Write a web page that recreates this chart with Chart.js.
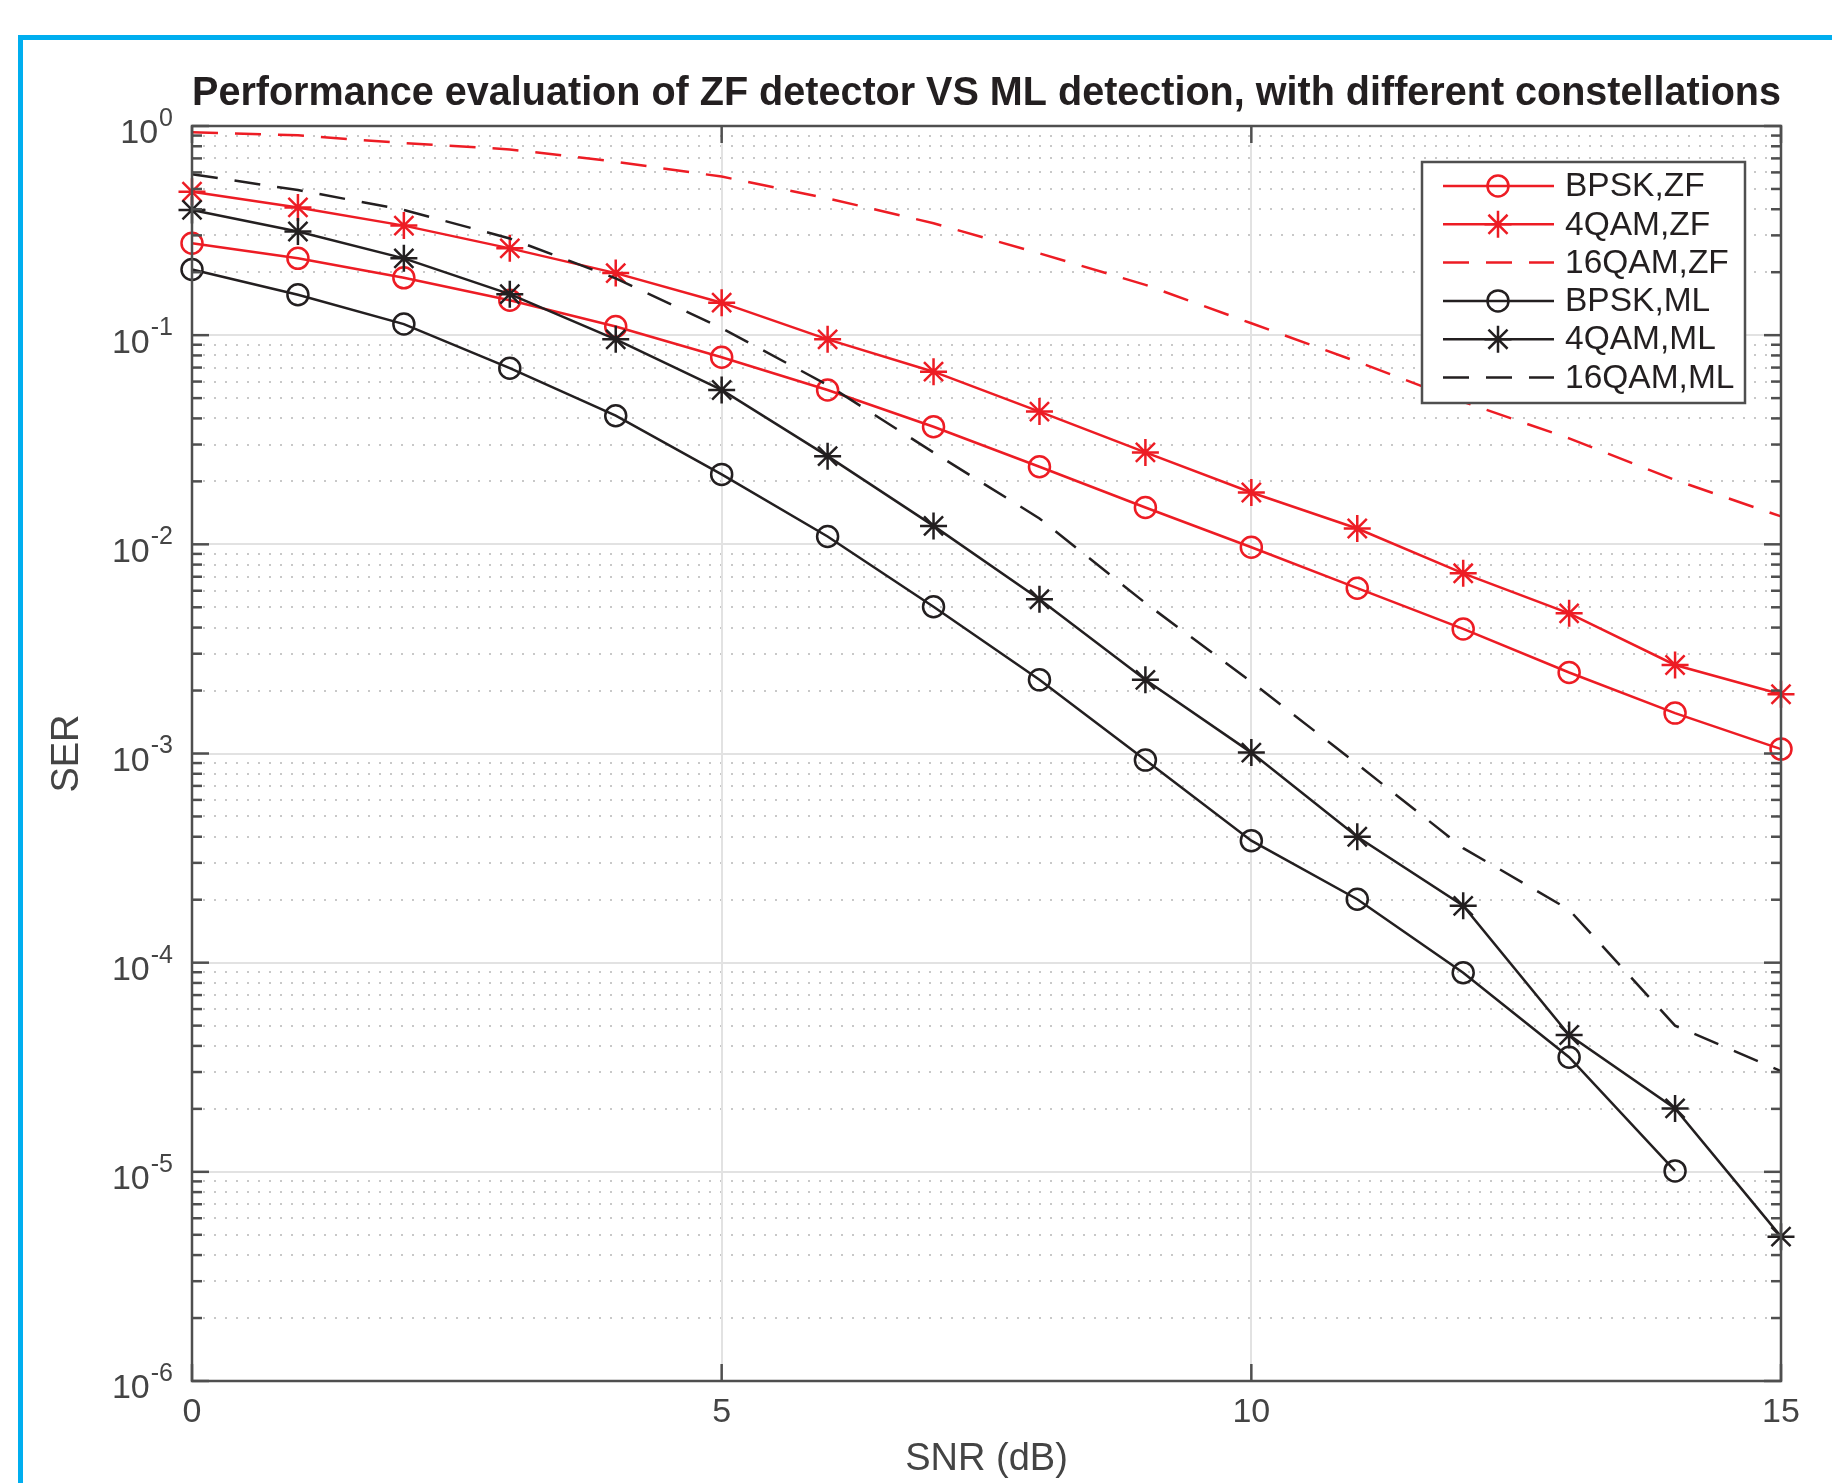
<!DOCTYPE html>
<html>
<head>
<meta charset="utf-8">
<title>ZF vs ML detection</title>
<script src="https://cdn.jsdelivr.net/npm/chart.js@4.4.1/dist/chart.umd.min.js"></script>
<style>
  html, body { margin: 0; padding: 0; background: #fff; }
  canvas { display: block; }
</style>
</head>
<body>
<canvas id="serChart" width="1832" height="1483"></canvas>
<script>
// SNR (dB) values of the simulation
const snrValues = [0, 1, 2, 3, 4, 5, 6, 7, 8, 9, 10, 11, 12, 13, 14, 15];

// Symbol error rates
const bpskZF = [0.275, 0.233, 0.188, 0.147, 0.110, 0.0784, 0.0547, 0.0365, 0.0235, 0.0150, 0.00968, 0.00617, 0.00394, 0.00244, 0.00156, 0.00105];
const qam4ZF = [0.485, 0.408, 0.334, 0.260, 0.198, 0.143, 0.0955, 0.0669, 0.0431, 0.0275, 0.0177, 0.0119, 0.00727, 0.00468, 0.00265, 0.00192];
const qam16ZF = [0.933, 0.902, 0.829, 0.773, 0.675, 0.573, 0.451, 0.343, 0.246, 0.174, 0.114, 0.0747, 0.048, 0.0321, 0.0203, 0.0136];
const bpskML = [0.206, 0.156, 0.113, 0.0695, 0.0412, 0.0216, 0.0109, 0.00503, 0.00225, 0.00093, 0.000383, 0.000201, 0.0000895, 0.0000353, 0.0000101, null];
const qam4ML = [0.397, 0.313, 0.233, 0.157, 0.0955, 0.0547, 0.0264, 0.01225, 0.00546, 0.00225, 0.00101, 0.0004, 0.000187, 0.0000451, 0.0000201, 0.0000049];
const qam16ML = [0.588, 0.494, 0.397, 0.290, 0.187, 0.108, 0.0578, 0.0275, 0.0133, 0.00524, 0.0022, 0.00089, 0.000353, 0.000179, 0.00005, 0.0000303];

const seriesLabels = ['BPSK,ZF', '4QAM,ZF', '16QAM,ZF', 'BPSK,ML', '4QAM,ML', '16QAM,ML'];

// Axis ticks
const xTickValues = [0, 5, 10, 15];
const yTickExponents = [0, -1, -2, -3, -4, -5, -6];

const chartTitle = 'Performance evaluation of ZF detector VS ML detection, with different constellations';
const xAxisTitle = 'SNR (dB)';
const yAxisTitle = 'SER';

const RED = '#ed1c24';
const BLACK = '#231f20';
const AXIS_GRAY = '#4f4f4f';
const LABEL_GRAY = '#444444';
const FONT = "'Liberation Sans', Arial, Helvetica, sans-serif";

function toPoints(values) {
  return snrValues.map((s, i) => ({ x: s, y: values[i] }));
}

function makeDataset(label, values, color, style, order) {
  const ds = {
    label: label,
    data: toPoints(values),
    borderColor: color,
    backgroundColor: 'rgba(0,0,0,0)',
    borderWidth: 2.5,
    pointBorderColor: color,
    pointBackgroundColor: 'rgba(0,0,0,0)',
    pointBorderWidth: 2.5,
    tension: 0,
    clip: false,
    order: order,
  };
  if (style === 'circle') {
    ds.pointStyle = 'circle';
    ds.pointRadius = 10.5;
  } else if (style === 'star') {
    ds.pointStyle = 'star';
    ds.pointRadius = 13.5;
  } else {
    ds.pointRadius = 0;
    ds.borderDash = [26, 17];
  }
  return ds;
}

function strokeLine(ctx, x1, y1, x2, y2) {
  ctx.beginPath();
  ctx.moveTo(x1, y1);
  ctx.lineTo(x2, y2);
  ctx.stroke();
}

// MATLAB-like frame: blue border, grid, box, ticks, labels and legend
const matlabLook = {
  id: 'matlabLook',
  beforeDraw(chart) {
    const { ctx, width, height } = chart;
    ctx.save();
    ctx.fillStyle = '#ffffff';
    ctx.fillRect(0, 0, width, height);
    ctx.strokeStyle = '#00aeef';
    ctx.lineWidth = 5;
    ctx.beginPath();
    ctx.moveTo(20.5, height);
    ctx.lineTo(20.5, 37.5);
    ctx.lineTo(width, 37.5);
    ctx.stroke();
    ctx.restore();
  },
  beforeDatasetsDraw(chart) {
    const { ctx, chartArea: a, scales: { x, y } } = chart;
    ctx.save();
    // minor grid (dotted)
    ctx.strokeStyle = '#c8c8c8';
    ctx.lineWidth = 2;
    ctx.setLineDash([2, 9]);
    for (let e = -6; e < 0; e++) {
      for (let m = 2; m <= 9; m++) {
        const py = Math.round(y.getPixelForValue(m * Math.pow(10, e)));
        strokeLine(ctx, a.left, py, a.right, py);
      }
    }
    // major grid (solid)
    ctx.setLineDash([]);
    ctx.strokeStyle = '#e2e2e2';
    yTickExponents.forEach(e => {
      const py = Math.round(y.getPixelForValue(Math.pow(10, e)));
      strokeLine(ctx, a.left, py, a.right, py);
    });
    xTickValues.forEach(v => {
      const px = Math.round(x.getPixelForValue(v));
      strokeLine(ctx, px, a.top, px, a.bottom);
    });
    ctx.restore();
  },
  afterDatasetsDraw(chart) {
    const { ctx, chartArea: a, scales: { x, y } } = chart;
    ctx.save();
    ctx.strokeStyle = AXIS_GRAY;
    ctx.lineWidth = 2.5;
    ctx.strokeRect(a.left, a.top, a.right - a.left, a.bottom - a.top);

    // y ticks (major + minor, both sides)
    const majorLen = 17, minorLen = 10;
    for (let e = -6; e <= 0; e++) {
      const py = y.getPixelForValue(Math.pow(10, e));
      strokeLine(ctx, a.left, py, a.left + majorLen, py);
      strokeLine(ctx, a.right, py, a.right - majorLen, py);
      if (e < 0) {
        for (let m = 2; m <= 9; m++) {
          const pm = y.getPixelForValue(m * Math.pow(10, e));
          strokeLine(ctx, a.left, pm, a.left + minorLen, pm);
          strokeLine(ctx, a.right, pm, a.right - minorLen, pm);
        }
      }
    }
    // x ticks (top and bottom)
    xTickValues.forEach(v => {
      const px = x.getPixelForValue(v);
      strokeLine(ctx, px, a.bottom, px, a.bottom - majorLen);
      strokeLine(ctx, px, a.top, px, a.top + majorLen);
    });

    // y tick labels: 10^e
    ctx.fillStyle = LABEL_GRAY;
    ctx.textBaseline = 'middle';
    const rightEdge = a.left - 19;
    yTickExponents.forEach(e => {
      const py = y.getPixelForValue(Math.pow(10, e));
      const expText = String(e);
      ctx.font = '25px ' + FONT;
      const expW = ctx.measureText(expText).width;
      ctx.textAlign = 'left';
      ctx.fillText(expText, rightEdge - expW, py - 7);
      ctx.font = '34px ' + FONT;
      ctx.textAlign = 'right';
      ctx.fillText('10', rightEdge - expW - 1, py + 8);
    });

    // x tick labels
    ctx.font = '34px ' + FONT;
    ctx.textAlign = 'center';
    xTickValues.forEach(v => {
      ctx.fillText(String(v), x.getPixelForValue(v), a.bottom + 32);
    });

    // axis titles
    ctx.font = '38px ' + FONT;
    ctx.fillText(xAxisTitle, (a.left + a.right) / 2, a.bottom + 79);
    ctx.save();
    ctx.translate(68, (a.top + a.bottom) / 2);
    ctx.rotate(-Math.PI / 2);
    ctx.fillText(yAxisTitle, 0, 0);
    ctx.restore();
    ctx.restore();
  },
  afterDraw(chart) {
    const { ctx } = chart;
    const box = { left: 1422, top: 162, right: 1745, bottom: 403 };
    ctx.save();
    ctx.fillStyle = '#ffffff';
    ctx.fillRect(box.left, box.top, box.right - box.left, box.bottom - box.top);
    ctx.strokeStyle = AXIS_GRAY;
    ctx.lineWidth = 2.5;
    ctx.strokeRect(box.left, box.top, box.right - box.left, box.bottom - box.top);

    chart.data.datasets.forEach((ds, i) => {
      const cy = 186 + i * 38.3;
      ctx.strokeStyle = ds.borderColor;
      ctx.lineWidth = ds.borderWidth;
      ctx.setLineDash(ds.borderDash || []);
      strokeLine(ctx, 1443, cy, 1554, cy);
      ctx.setLineDash([]);
      if (ds.pointRadius > 0) {
        ctx.fillStyle = 'rgba(0,0,0,0)';
        ctx.lineWidth = ds.pointBorderWidth;
        Chart.helpers.drawPoint(ctx, {
          pointStyle: ds.pointStyle,
          radius: ds.pointRadius,
          rotation: 0,
          borderWidth: ds.pointBorderWidth,
        }, 1498, cy);
      }
      ctx.fillStyle = BLACK;
      ctx.font = '33.5px ' + FONT;
      ctx.textAlign = 'left';
      ctx.textBaseline = 'middle';
      ctx.fillText(ds.label, 1565, cy + 1);
    });
    ctx.restore();
  },
};

Chart.defaults.font.family = FONT;

new Chart(document.getElementById('serChart'), {
  type: 'line',
  data: {
    datasets: [
      makeDataset(seriesLabels[0], bpskZF, RED, 'circle', 6),
      makeDataset(seriesLabels[1], qam4ZF, RED, 'star', 5),
      makeDataset(seriesLabels[2], qam16ZF, RED, 'dash', 4),
      makeDataset(seriesLabels[3], bpskML, BLACK, 'circle', 3),
      makeDataset(seriesLabels[4], qam4ML, BLACK, 'star', 2),
      makeDataset(seriesLabels[5], qam16ML, BLACK, 'dash', 1),
    ],
  },
  options: {
    responsive: false,
    animation: false,
    events: [],
    devicePixelRatio: 1,
    layout: {
      padding: { left: 192, right: 51, bottom: 102, top: 0 },
    },
    plugins: {
      legend: { display: false },
      tooltip: { enabled: false },
      title: {
        display: true,
        text: chartTitle,
        color: BLACK,
        font: { family: FONT, size: 40, weight: 'bold' },
        padding: { top: 69.5, bottom: 8.5 },
      },
    },
    scales: {
      x: {
        type: 'linear',
        min: 0,
        max: 15,
        display: false,
      },
      y: {
        type: 'logarithmic',
        min: 1e-6,
        max: 1,
        display: false,
      },
    },
  },
  plugins: [matlabLook],
});
</script>
</body>
</html>
